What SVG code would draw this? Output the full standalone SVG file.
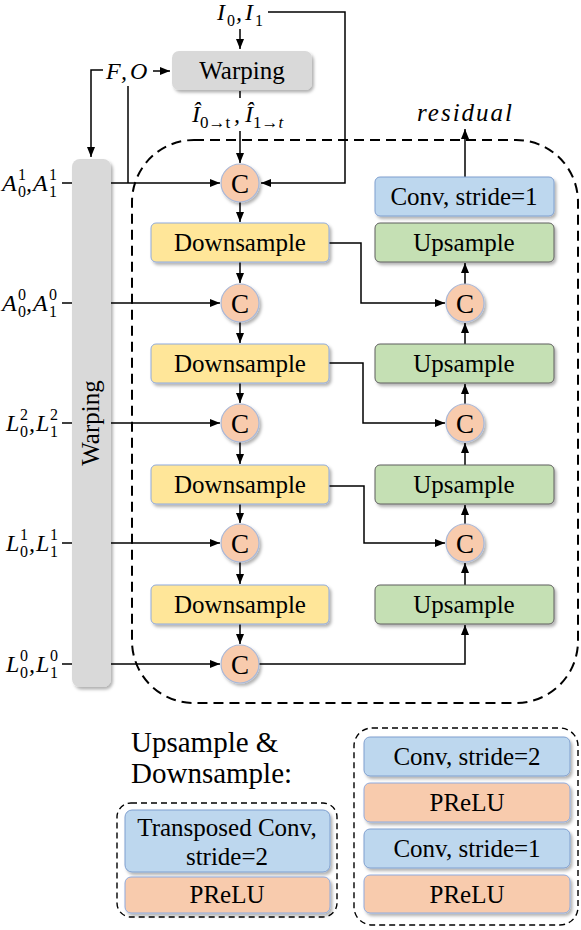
<svg xmlns="http://www.w3.org/2000/svg" width="581" height="930" viewBox="0 0 581 930">
<defs>
<style>
.t{font-family:"Liberation Serif","Times New Roman",serif;font-size:25px;fill:#000;text-anchor:middle}
.c{font-family:"Liberation Serif","Times New Roman",serif;font-size:27px;fill:#000;text-anchor:middle}
.h{font-family:"Liberation Serif","Times New Roman",serif;font-size:29px;fill:#000}
.m{font-family:"Liberation Serif","DejaVu Serif",serif;font-style:italic;font-size:24px;fill:#000}
.ms{font-family:"Liberation Serif","DejaVu Serif",serif;font-size:16px;fill:#000}
.gray{fill:#d9d9d9;stroke:none}
.down{fill:#ffe699;stroke:#8faadc;stroke-width:1}
.up{fill:#c5e0b4;stroke:#5f5f5f;stroke-width:1}
.blue{fill:#bdd7ee;stroke:#7f9fcf;stroke-width:1}
.pre{fill:#f8cbad;stroke:#8faadc;stroke-width:1}
.cc{fill:#f8cbad;stroke:#a9b8d8;stroke-width:1.2}
.ln{fill:none;stroke:#000;stroke-width:1.5}
.dash{fill:none;stroke:#000;stroke-width:2;stroke-dasharray:10 6}
.dash2{fill:none;stroke:#000;stroke-width:1.4;stroke-dasharray:6 4}
</style>
<filter id="sh" x="-10%" y="-10%" width="130%" height="140%">
<feDropShadow dx="2" dy="2.5" stdDeviation="1.5" flood-color="#000" flood-opacity="0.3"/>
</filter>
<marker id="ar" markerWidth="10" markerHeight="8" refX="10" refY="4" orient="auto" markerUnits="userSpaceOnUse">
<path d="M0,0 L10,4 L0,8 Z" fill="#000"/>
</marker>
</defs>
<rect width="581" height="930" fill="#fff"/>

<!-- container -->
<rect class="dash" x="132" y="140" width="446" height="563" rx="62"/>

<!-- connectors -->
<g id="connectors">
<path class="ln" d="M240,29 V49" marker-end="url(#ar)"/>
<path class="ln" d="M268,12 H345 V183 H261" marker-end="url(#ar)"/>
<path class="ln" d="M153,71 H170" marker-end="url(#ar)"/>
<path class="ln" d="M103,70 H91 V157" marker-end="url(#ar)"/>
<path class="ln" d="M128,86 V183"/>
<path class="ln" d="M240,91 V98"/>
<path class="ln" d="M240,131 V163" marker-end="url(#ar)"/>
<path class="ln" d="M62,183 H72 M62,303 H72 M62,423 H72 M62,543 H72 M62,664 H72"/>
<path class="ln" d="M111,183 H220" marker-end="url(#ar)"/>
<path class="ln" d="M111,303 H220" marker-end="url(#ar)"/>
<path class="ln" d="M111,423 H220" marker-end="url(#ar)"/>
<path class="ln" d="M111,543 H220" marker-end="url(#ar)"/>
<path class="ln" d="M111,664 H220" marker-end="url(#ar)"/>
<path class="ln" d="M240,202 V222" marker-end="url(#ar)"/>
<path class="ln" d="M240,262 V283" marker-end="url(#ar)"/>
<path class="ln" d="M240,322 V343" marker-end="url(#ar)"/>
<path class="ln" d="M240,383 V403" marker-end="url(#ar)"/>
<path class="ln" d="M240,442 V464" marker-end="url(#ar)"/>
<path class="ln" d="M240,504 V523" marker-end="url(#ar)"/>
<path class="ln" d="M240,562 V584" marker-end="url(#ar)"/>
<path class="ln" d="M240,624 V644" marker-end="url(#ar)"/>
<path class="ln" d="M329,243 H361 V303 H445" marker-end="url(#ar)"/>
<path class="ln" d="M329,363 H363 V423 H445" marker-end="url(#ar)"/>
<path class="ln" d="M329,486 H364 V543 H445" marker-end="url(#ar)"/>
<path class="ln" d="M259,664 H465 V625" marker-end="url(#ar)"/>
<path class="ln" d="M465,585 V563" marker-end="url(#ar)"/>
<path class="ln" d="M465,524 V505" marker-end="url(#ar)"/>
<path class="ln" d="M465,465 V443" marker-end="url(#ar)"/>
<path class="ln" d="M465,404 V384" marker-end="url(#ar)"/>
<path class="ln" d="M465,344 V323" marker-end="url(#ar)"/>
<path class="ln" d="M465,284 V263" marker-end="url(#ar)"/>
<path class="ln" d="M465,177 V129" marker-end="url(#ar)"/>
</g>

<!-- top warping -->
<g id="warp-top">
<rect class="gray" x="172" y="51" width="140" height="39" rx="7" filter="url(#sh)"/>
<text class="t" x="242" y="79">Warping</text>
</g>

<!-- vertical warping -->
<g id="warp-bar">
<rect class="gray" x="72" y="159" width="39" height="528" rx="8" filter="url(#sh)"/>
<text class="t" transform="translate(99,423) rotate(-90)">Warping</text>
</g>

<!-- input labels -->
<g id="lbl-I">
<text class="m" x="217" y="20">I</text><text class="ms" x="227" y="26">0</text>
<text class="m" x="236" y="20">,</text>
<text class="m" x="245" y="20">I</text><text class="ms" x="255" y="26">1</text>
</g>
<g id="lbl-FO">
<text class="m" x="106" y="79">F</text><text class="m" x="121" y="79">,</text><text class="m" x="130" y="79">O</text>
</g>
<g id="lbl-Ihat">
<text class="m" x="192" y="122">Î</text><text class="ms" x="200" y="128" style="font-size:17px">0→t</text>
<text class="m" x="234" y="122">,</text>
<text class="m" x="245" y="122">Î</text><text class="ms" x="253" y="128" style="font-size:17px">1→<tspan style="font-style:italic">t</tspan></text>
</g>
<g id="lbl-res">
<text class="m" x="417" y="121" style="font-size:25px" textLength="95" lengthAdjust="spacing">residual</text>
</g>

<!-- row labels -->
<g id="lbl-A1">
<text class="m" x="2" y="191">A</text><text class="ms" x="18" y="180">1</text><text class="ms" x="18" y="197">0</text>
<text class="m" x="26" y="191">,</text>
<text class="m" x="33" y="191">A</text><text class="ms" x="49" y="180">1</text><text class="ms" x="49" y="197">1</text>
</g>
<g id="lbl-A0">
<text class="m" x="2" y="311">A</text><text class="ms" x="18" y="300">0</text><text class="ms" x="18" y="317">0</text>
<text class="m" x="26" y="311">,</text>
<text class="m" x="33" y="311">A</text><text class="ms" x="49" y="300">0</text><text class="ms" x="49" y="317">1</text>
</g>
<g id="lbl-L2">
<text class="m" x="6" y="431">L</text><text class="ms" x="20" y="420">2</text><text class="ms" x="20" y="437">0</text>
<text class="m" x="29" y="431">,</text>
<text class="m" x="36" y="431">L</text><text class="ms" x="50" y="420">2</text><text class="ms" x="50" y="437">1</text>
</g>
<g id="lbl-L1">
<text class="m" x="6" y="551">L</text><text class="ms" x="20" y="540">1</text><text class="ms" x="20" y="557">0</text>
<text class="m" x="29" y="551">,</text>
<text class="m" x="36" y="551">L</text><text class="ms" x="50" y="540">1</text><text class="ms" x="50" y="557">1</text>
</g>
<g id="lbl-L0">
<text class="m" x="6" y="672">L</text><text class="ms" x="20" y="661">0</text><text class="ms" x="20" y="678">0</text>
<text class="m" x="29" y="672">,</text>
<text class="m" x="36" y="672">L</text><text class="ms" x="50" y="661">0</text><text class="ms" x="50" y="678">1</text>
</g>

<!-- left column -->
<g id="c1"><circle class="cc" cx="240" cy="183" r="19" filter="url(#sh)"/><text class="c" x="240" y="193">C</text></g>
<g id="down1"><rect class="down" x="151" y="223" width="178" height="39" rx="5" filter="url(#sh)"/><text class="t" x="240" y="251">Downsample</text></g>
<g id="c2"><circle class="cc" cx="240" cy="303" r="19" filter="url(#sh)"/><text class="c" x="240" y="313">C</text></g>
<g id="down2"><rect class="down" x="151" y="344" width="178" height="39" rx="5" filter="url(#sh)"/><text class="t" x="240" y="372">Downsample</text></g>
<g id="c3"><circle class="cc" cx="240" cy="423" r="19" filter="url(#sh)"/><text class="c" x="240" y="433">C</text></g>
<g id="down3"><rect class="down" x="151" y="465" width="178" height="39" rx="5" filter="url(#sh)"/><text class="t" x="240" y="493">Downsample</text></g>
<g id="c4"><circle class="cc" cx="240" cy="543" r="19" filter="url(#sh)"/><text class="c" x="240" y="553">C</text></g>
<g id="down4"><rect class="down" x="151" y="585" width="178" height="39" rx="5" filter="url(#sh)"/><text class="t" x="240" y="613">Downsample</text></g>
<g id="c5"><circle class="cc" cx="240" cy="664" r="19" filter="url(#sh)"/><text class="c" x="240" y="674">C</text></g>

<!-- right column -->
<g id="conv-out"><rect class="blue" x="375" y="177" width="179" height="39" rx="5" filter="url(#sh)"/><text class="t" x="464" y="205">Conv, stride=1</text></g>
<g id="up1"><rect class="up" x="375" y="223" width="179" height="39" rx="5" filter="url(#sh)"/><text class="t" x="464" y="251">Upsample</text></g>
<g id="rc1"><circle class="cc" cx="465" cy="303" r="19" filter="url(#sh)"/><text class="c" x="465" y="313">C</text></g>
<g id="up2"><rect class="up" x="375" y="344" width="179" height="39" rx="5" filter="url(#sh)"/><text class="t" x="464" y="372">Upsample</text></g>
<g id="rc2"><circle class="cc" cx="465" cy="423" r="19" filter="url(#sh)"/><text class="c" x="465" y="433">C</text></g>
<g id="up3"><rect class="up" x="375" y="465" width="179" height="39" rx="5" filter="url(#sh)"/><text class="t" x="464" y="493">Upsample</text></g>
<g id="rc3"><circle class="cc" cx="465" cy="543" r="19" filter="url(#sh)"/><text class="c" x="465" y="553">C</text></g>
<g id="up4"><rect class="up" x="375" y="585" width="179" height="39" rx="5" filter="url(#sh)"/><text class="t" x="464" y="613">Upsample</text></g>

<!-- legend -->
<g id="legend-title">
<text class="h" x="131" y="752">Upsample &amp;</text>
<text class="h" x="131" y="783">Downsample:</text>
</g>
<g id="legend-left">
<rect class="dash2" x="117" y="803" width="220" height="114" rx="14"/>
<rect class="blue" x="125" y="810" width="205" height="62" rx="7" filter="url(#sh)"/>
<text class="t" x="227" y="836">Transposed Conv,</text>
<text class="t" x="227" y="865">stride=2</text>
<rect class="pre" x="125" y="877" width="205" height="36" rx="6" filter="url(#sh)"/>
<text class="t" x="227" y="903">PReLU</text>
</g>
<g id="legend-right">
<rect class="dash2" x="354" y="728" width="224" height="197" rx="18"/>
<rect class="blue" x="364" y="737" width="206" height="39" rx="6" filter="url(#sh)"/>
<text class="t" x="467" y="765">Conv, stride=2</text>
<rect class="pre" x="364" y="783" width="206" height="39" rx="6" filter="url(#sh)"/>
<text class="t" x="467" y="811">PReLU</text>
<rect class="blue" x="364" y="829" width="206" height="39" rx="6" filter="url(#sh)"/>
<text class="t" x="467" y="857">Conv, stride=1</text>
<rect class="pre" x="364" y="875" width="206" height="38" rx="6" filter="url(#sh)"/>
<text class="t" x="467" y="903">PReLU</text>
</g>
</svg>
